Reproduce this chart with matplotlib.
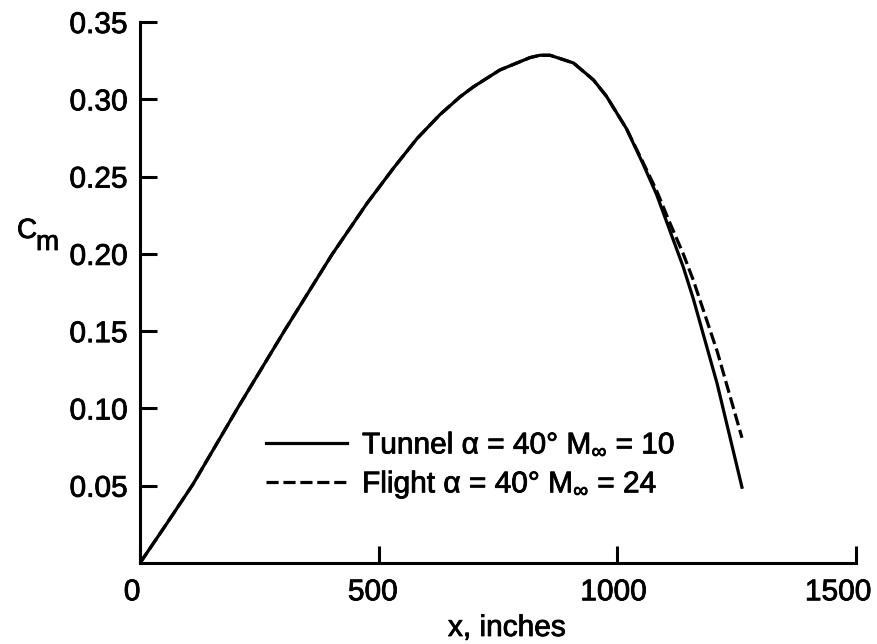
import matplotlib
matplotlib.use('Agg')
import matplotlib.pyplot as plt
import matplotlib.patheffects as pe
from matplotlib.text import Text
from matplotlib.transforms import ScaledTranslation

FONTSIZE = 21.5
plt.rcdefaults()
plt.rcParams['font.family'] = ['Liberation Sans', 'DejaVu Sans']
plt.rcParams['mathtext.fontset'] = 'custom'
plt.rcParams['mathtext.rm'] = 'Liberation Sans'
plt.rcParams['mathtext.it'] = 'Liberation Sans'

# pitching moment coefficient along the body, tunnel run
x_tunnel = [0, 56, 111, 205, 304, 402, 475, 531, 580, 628, 670, 698, 754,
            817, 838, 859, 908, 950, 977, 998, 1019, 1054, 1082, 1110,
            1138, 1159, 1209, 1261]
cm_tunnel = [0, 0.0255, 0.051, 0.1005, 0.151, 0.1995, 0.2325, 0.2555,
             0.2745, 0.290, 0.3015, 0.308, 0.319, 0.327, 0.3285, 0.3285,
             0.3235, 0.3125, 0.302, 0.2915, 0.281, 0.258, 0.2385, 0.215,
             0.1915, 0.171, 0.116, 0.049]

# flight case follows the tunnel curve until the aft end
x_flight = [0, 56, 111, 205, 304, 402, 475, 531, 580, 628, 670, 698, 754,
            817, 838, 859, 908, 950, 977, 998, 1019, 1054, 1082, 1110,
            1138, 1159, 1209, 1261]
cm_flight = [0, 0.0255, 0.051, 0.1005, 0.151, 0.1995, 0.2325, 0.2555,
             0.2745, 0.290, 0.3015, 0.308, 0.319, 0.327, 0.3285, 0.3285,
             0.3235, 0.3125, 0.302, 0.2915, 0.281, 0.259, 0.241, 0.220,
             0.200, 0.183, 0.137, 0.081]

labels = [r'Tunnel α = 40° M$_{\infty}$ = 10',
          r'Flight α = 40° M$_{\infty}$ = 24']

xticks = [0, 500, 1000, 1500]
yticks = [0.05, 0.10, 0.15, 0.20, 0.25, 0.30, 0.35]
# small horizontal nudges (pixels) of the x tick labels
xlabel_shift = [-8, -6, -4, -18]

fig = plt.figure(figsize=(8.78, 6.44), dpi=100)
ax = fig.add_axes([0.1595, 0.1258, 0.8155, 0.8400])

ax.plot(x_tunnel, cm_tunnel, color='black', linewidth=2.3,
        label=labels[0])
ax.plot(x_flight, cm_flight, color='black', linewidth=2.3,
        linestyle=(0, (3.8, 1.5)), label=labels[1])

ax.set_xlim(0, 1500)
ax.set_ylim(0, 0.35)
ax.set_xticks(xticks)
ax.set_xticklabels([str(t) for t in xticks])
ax.set_yticks(yticks)
ax.set_yticklabels(['%.2f' % t for t in yticks])

for side in ['top', 'right']:
    ax.spines[side].set_visible(False)
for side in ['left', 'bottom']:
    ax.spines[side].set_linewidth(2.2)

ax.tick_params(direction='in', length=12, width=2.2, labelsize=FONTSIZE,
               color='black')
ax.tick_params(axis='y', pad=9)
ax.tick_params(axis='x', pad=11)

for lbl, dx in zip(ax.get_xticklabels(), xlabel_shift):
    lbl.set_transform(lbl.get_transform() +
                      ScaledTranslation(dx / 100, 0, fig.dpi_scale_trans))

# C_m, drawn as two pieces so the m sits low but keeps full size
fig.text(17 / 878, 1 - 231 / 644, 'C', fontsize=20, ha='left', va='center')
fig.text(36 / 878, 1 - 243 / 644, 'm', fontsize=20, ha='left', va='center')
fig.text(507 / 878, 1 - 628 / 644, 'x, inches', fontsize=FONTSIZE,
         ha='center', va='center')

leg = ax.legend(loc='upper left', bbox_to_anchor=(0.1766, 0.243),
                frameon=False, fontsize=FONTSIZE, handlelength=2.7,
                handletextpad=0.5, labelspacing=0.3, borderaxespad=0,
                borderpad=0)

# slightly heavier lettering
for t in fig.findobj(Text):
    t.set_path_effects([pe.withStroke(linewidth=0.6, foreground='black')])

fig.savefig('out.png', dpi=100)
plt.close()
